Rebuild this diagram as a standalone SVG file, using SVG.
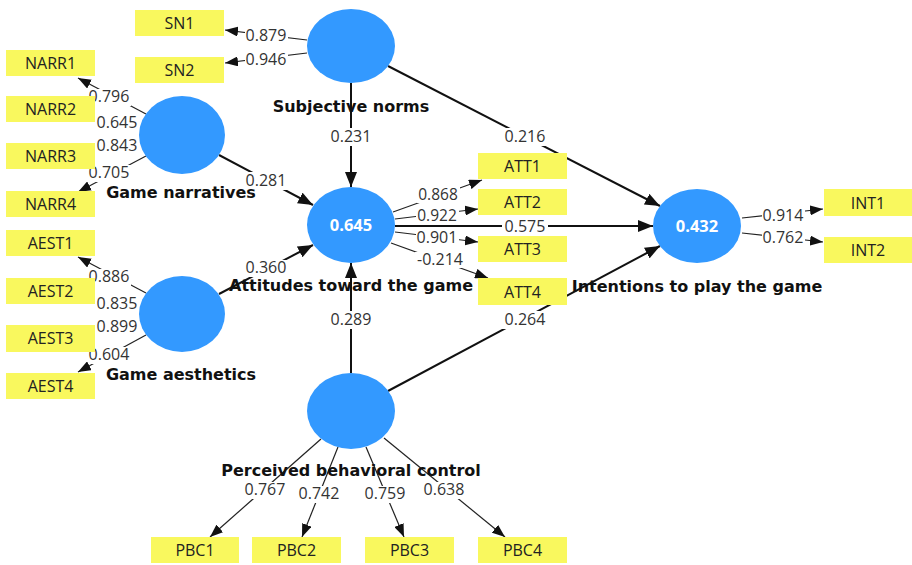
<svg xmlns="http://www.w3.org/2000/svg" width="912" height="565" viewBox="0 0 912 565">
  <style>
    .bg { fill: #ffffff; }
    .lv { fill: #3399ff; }
    .ind rect { fill: #f9f85e; }
    .ind text { font-family: "Open Sans", "Noto Sans", sans-serif; font-size: 16px; fill: #222222; text-anchor: middle; }
    .lvname { font-family: "DejaVu Sans", "Open Sans", sans-serif; font-size: 16px; font-weight: bold; fill: #111111; text-anchor: middle; }
    .r2 { font-family: "Open Sans", "Noto Sans", sans-serif; font-size: 16.5px; font-weight: bold; fill: #ffffff; text-anchor: middle; }
    .path { stroke: #111111; stroke-width: 2; fill: none; marker-end: url(#arrowL); }
    .load { stroke: #222222; stroke-width: 1.2; fill: none; marker-end: url(#arrowS); }
    .coef rect { fill: #ffffff; }
    .coef text { font-family: "Open Sans", "Noto Sans", sans-serif; font-size: 16px; fill: #333333; text-anchor: middle; }
    .coef text.tight { font-size: 15.5px; }
  </style>
  <defs>
    <marker id="arrowL" markerUnits="userSpaceOnUse" markerWidth="15" markerHeight="12" refX="15" refY="6" orient="auto">
      <path d="M0,0 L15,6 L0,12 z" fill="#111111"/>
    </marker>
    <marker id="arrowS" markerUnits="userSpaceOnUse" markerWidth="13" markerHeight="10" refX="13" refY="5" orient="auto">
      <path d="M0,0 L13,5 L0,10 z" fill="#111111"/>
    </marker>
  </defs>
  <rect class="bg" x="0" y="0" width="912" height="565"/>

  <!-- connector lines -->
  <g id="connectors">
    <!-- structural paths -->
    <line class="path" x1="219" y1="155" x2="313" y2="205"/>
    <line class="path" x1="219" y1="294" x2="313" y2="245"/>
    <line class="path" x1="351" y1="83" x2="351" y2="187"/>
    <line class="path" x1="351" y1="373" x2="351" y2="263"/>
    <line class="path" x1="388" y1="66" x2="660" y2="206"/>
    <line class="path" x1="395" y1="226" x2="653" y2="226"/>
    <line class="path" x1="388" y1="391" x2="660" y2="246"/>
    <!-- outer loadings -->
    <line class="load" x1="307" y1="40" x2="225" y2="30"/>
    <line class="load" x1="307" y1="53" x2="225" y2="63"/>
    <line class="load" x1="146" y1="114" x2="78" y2="78"/>
    <line class="load" x1="139" y1="131" x2="98" y2="121"/>
    <line class="load" x1="139" y1="140" x2="98" y2="149"/>
    <line class="load" x1="146" y1="156" x2="78" y2="192"/>
    <line class="load" x1="146" y1="293" x2="78" y2="257"/>
    <line class="load" x1="139" y1="310" x2="98" y2="301"/>
    <line class="load" x1="139" y1="320" x2="98" y2="329"/>
    <line class="load" x1="146" y1="335" x2="78" y2="372"/>
    <line class="load" x1="393" y1="212" x2="482" y2="180"/>
    <line class="load" x1="395" y1="219" x2="478" y2="209"/>
    <line class="load" x1="395" y1="232" x2="478" y2="242"/>
    <line class="load" x1="391" y1="243" x2="488" y2="278"/>
    <line class="load" x1="742" y1="218" x2="823" y2="209"/>
    <line class="load" x1="742" y1="233" x2="823" y2="242"/>
    <line class="load" x1="321" y1="439" x2="210" y2="537"/>
    <line class="load" x1="338" y1="447" x2="302" y2="537"/>
    <line class="load" x1="366" y1="447" x2="404" y2="537"/>
    <line class="load" x1="384" y1="438" x2="505" y2="537"/>
  </g>

  <!-- coefficient labels -->
  <g id="connector-labels" class="coef">
    <rect x="245" y="28" width="43" height="17"/><text x="266" y="41">0.879</text>
    <rect x="245" y="52" width="43" height="17"/><text x="266" y="65">0.946</text>
    <rect x="88" y="89" width="43" height="17"/><text x="109" y="102">0.796</text>
    <rect x="95" y="114" width="44" height="18"/><text x="117" y="128">0.645</text>
    <rect x="95" y="138" width="44" height="17"/><text x="117" y="151">0.843</text>
    <rect x="88" y="165" width="43" height="17"/><text x="109" y="178">0.705</text>
    <rect x="88" y="269" width="43" height="17"/><text x="109" y="282">0.886</text>
    <rect x="95" y="295" width="44" height="18"/><text x="117" y="309">0.835</text>
    <rect x="95" y="319" width="44" height="17"/><text x="117" y="332">0.899</text>
    <rect x="88" y="347" width="43" height="17"/><text x="109" y="360">0.604</text>
    <rect x="243" y="172" width="46" height="18"/><text x="266" y="186">0.281</text>
    <rect x="243" y="260" width="46" height="17"/><text x="266" y="273">0.360</text>
    <rect x="328" y="128" width="46" height="18"/><text x="351" y="142">0.231</text>
    <rect x="328" y="311" width="46" height="18"/><text x="351" y="325">0.289</text>
    <rect x="502" y="128" width="46" height="18"/><text x="525" y="142">0.216</text>
    <rect x="502" y="218" width="46" height="18"/><text x="525" y="232">0.575</text>
    <rect x="502" y="311" width="46" height="18"/><text x="525" y="325">0.264</text>
    <rect x="417" y="187" width="43" height="16"/><text class="tight" x="438" y="200">0.868</text>
    <rect x="416" y="208" width="43" height="16"/><text class="tight" x="437" y="221">0.922</text>
    <rect x="416" y="230" width="43" height="16"/><text x="437" y="243">0.901</text>
    <rect x="415" y="252" width="50" height="16"/><text x="440" y="265">-0.214</text>
    <rect x="762" y="208" width="43" height="16"/><text x="783" y="221">0.914</text>
    <rect x="762" y="230" width="43" height="16"/><text x="783" y="243">0.762</text>
    <rect x="244" y="482" width="43" height="17"/><text x="265" y="495">0.767</text>
    <rect x="298" y="486" width="43" height="17"/><text x="319" y="499">0.742</text>
    <rect x="364" y="486" width="43" height="17"/><text x="385" y="499">0.759</text>
    <rect x="423" y="482" width="43" height="17"/><text x="444" y="495">0.638</text>
  </g>

  <!-- latent variables -->
  <g id="subjective-norms">
    <ellipse class="lv" cx="351" cy="46" rx="44" ry="37"/>
    <text class="lvname" x="351" y="112">Subjective norms</text>
  </g>
  <g id="game-narratives">
    <ellipse class="lv" cx="182" cy="135" rx="43" ry="39"/>
    <text class="lvname" x="181" y="198">Game narratives</text>
  </g>
  <g id="game-aesthetics">
    <ellipse class="lv" cx="182" cy="314" rx="43" ry="38"/>
    <text class="lvname" x="181" y="380">Game aesthetics</text>
  </g>
  <g id="attitudes">
    <ellipse class="lv" cx="351" cy="225" rx="44" ry="38"/>
    <text class="r2" x="351" y="231">0.645</text>
    <text class="lvname" x="351" y="291">Attitudes toward the game</text>
  </g>
  <g id="intentions">
    <ellipse class="lv" cx="697" cy="226" rx="44" ry="37"/>
    <text class="r2" x="697" y="232">0.432</text>
    <text class="lvname" x="697" y="292">Intentions to play the game</text>
  </g>
  <g id="perceived-behavioral-control">
    <ellipse class="lv" cx="351" cy="411" rx="44" ry="38"/>
    <text class="lvname" x="351" y="476">Perceived behavioral control</text>
  </g>

  <!-- indicators -->
  <g id="SN1" class="ind"><rect x="135" y="10" width="89" height="26"/><text x="179.5" y="29">SN1</text></g>
  <g id="SN2" class="ind"><rect x="135" y="57" width="89" height="26"/><text x="179.5" y="76">SN2</text></g>
  <g id="NARR1" class="ind"><rect x="6" y="50" width="89" height="26"/><text x="50.5" y="69">NARR1</text></g>
  <g id="NARR2" class="ind"><rect x="6" y="96" width="89" height="26"/><text x="50.5" y="115">NARR2</text></g>
  <g id="NARR3" class="ind"><rect x="6" y="143" width="89" height="26"/><text x="50.5" y="162">NARR3</text></g>
  <g id="NARR4" class="ind"><rect x="6" y="191" width="89" height="26"/><text x="50.5" y="210">NARR4</text></g>
  <g id="AEST1" class="ind"><rect x="6" y="230" width="89" height="26"/><text x="50.5" y="249">AEST1</text></g>
  <g id="AEST2" class="ind"><rect x="6" y="278" width="89" height="26"/><text x="50.5" y="297">AEST2</text></g>
  <g id="AEST3" class="ind"><rect x="6" y="325" width="89" height="27"/><text x="50.5" y="344">AEST3</text></g>
  <g id="AEST4" class="ind"><rect x="6" y="373" width="89" height="26"/><text x="50.5" y="392">AEST4</text></g>
  <g id="ATT1" class="ind"><rect x="478" y="153" width="89" height="26"/><text x="522.5" y="172">ATT1</text></g>
  <g id="ATT2" class="ind"><rect x="478" y="189" width="89" height="26"/><text x="522.5" y="208">ATT2</text></g>
  <g id="ATT3" class="ind"><rect x="478" y="236" width="89" height="26"/><text x="522.5" y="255">ATT3</text></g>
  <g id="ATT4" class="ind"><rect x="478" y="278" width="89" height="27"/><text x="522.5" y="298">ATT4</text></g>
  <g id="INT1" class="ind"><rect x="824" y="189" width="88" height="27"/><text x="868" y="209">INT1</text></g>
  <g id="INT2" class="ind"><rect x="824" y="237" width="88" height="26"/><text x="868" y="256">INT2</text></g>
  <g id="PBC1" class="ind"><rect x="151" y="537" width="88" height="26"/><text x="195" y="556">PBC1</text></g>
  <g id="PBC2" class="ind"><rect x="252" y="537" width="89" height="26"/><text x="296.5" y="556">PBC2</text></g>
  <g id="PBC3" class="ind"><rect x="365" y="537" width="89" height="26"/><text x="409.5" y="556">PBC3</text></g>
  <g id="PBC4" class="ind"><rect x="478" y="537" width="89" height="26"/><text x="522.5" y="556">PBC4</text></g>
</svg>
